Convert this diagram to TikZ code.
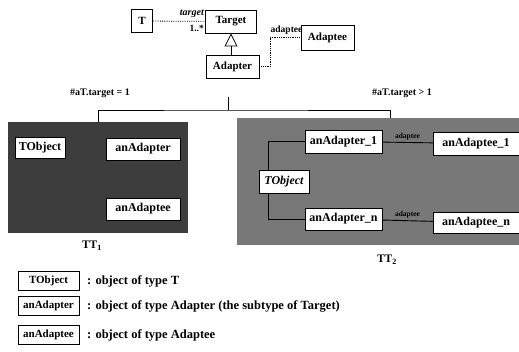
\documentclass[tikz,border=0pt]{standalone}
\usepackage{fontspec}
\setmainfont{Liberation Serif}
\usepackage{tikz}
\usetikzlibrary{arrows.meta,positioning,calc}
\definecolor{fondoA}{gray}{0.24}
\definecolor{fondoB}{gray}{0.47}

\tikzset{
  clase/.style={draw,line width=0.9pt,fill=white,font=\fontsize{11}{13}\selectfont\bfseries,minimum height=23pt,inner sep=1.5pt},
  objeto/.style={draw,fill=white,font=\fontsize{12}{14}\selectfont\bfseries,minimum height=22pt,inner sep=1.5pt},
  clave/.style={draw,fill=white,font=\fontsize{11}{13}\selectfont\bfseries,minimum width=61pt,minimum height=19pt,inner sep=1pt},
  panel/.style={fill=#1,inner sep=0pt,outer sep=0pt},
  rol/.style={font=\fontsize{9.5}{11}\selectfont\bfseries,inner sep=1pt},
  assoc/.style={densely dotted,line width=0.8pt},
  enlace/.style={line width=0.9pt,black},
  leyenda/.style={font=\fontsize{12.5}{14}\selectfont\bfseries,anchor=west,inner sep=0pt}
}

\begin{document}
\begin{tikzpicture}[x=1pt,y=-1pt]
\useasboundingbox[fill=white] (0,0) rectangle (519,351);
% diagrama de clases
\node[clase,minimum width=21pt] (cT) at (142,21) {T};
\node[clase,minimum width=51pt] (cTarget) at (231,21.5) {Target};
\node[clase,minimum width=53pt] (cAdapter) at (232.5,66.5) {Adapter};
\node[clase,minimum width=53pt,minimum height=25pt] (cAdaptee) at (327.5,37.5) {Adaptee};
\draw[assoc] (cT) -- (cTarget);
\node[rol,font=\fontsize{10}{11}\selectfont\bfseries\itshape,anchor=south east] (lTarget) at ([yshift=3pt]cTarget.west) {target};
\node[rol,anchor=north east] (lMult) at ([yshift=-3pt]cTarget.west) {1..*};
\draw[line width=0.8pt,-{Triangle[open,length=13pt,width=13pt]}] (cAdapter.north -| cTarget.south) -- (cTarget.south);
\draw[assoc] (cAdapter.east) -- ++(11,0) |- (cAdaptee.west);
\node[rol,anchor=south east] (lAdaptee) at ([xshift=3pt,yshift=2pt]cAdaptee.west) {adaptee};

% los dos casos
\node[panel=fondoA,minimum width=180pt,minimum height=111pt] (pUno) at (98,177.5) {};
\node[panel=fondoB,minimum width=282pt,minimum height=127pt] (pDos) at (378,181.5) {};
\coordinate (bTop) at (228,97);
\coordinate (bMid) at (228,110);
\draw[line width=0.9pt] (bTop) -- (bMid);
\draw[line width=0.9pt] (pUno.north) |- (bMid) -| ([xshift=12pt]pDos.north);
\node[rol,font=\fontsize{10}{11}\selectfont\bfseries] (cond1) at (100,93) {\#aT.target = 1};
\node[rol,font=\fontsize{10}{11}\selectfont\bfseries] (cond2) at (402,93) {\#aT.target > 1};

% TT1
\node[objeto,minimum width=50pt,minimum height=21pt] (oT1) at (40,147.5) {TObject};
\node[objeto,minimum width=74pt] (oAdapter) at (143,149) {anAdapter};
\node[objeto,minimum width=74pt] (oAdaptee) at (143,209) {anAdaptee};
\node[font=\fontsize{11.5}{13}\selectfont\bfseries] (tt1) at (92,246) {TT\textsubscript{1}};

% TT2
\node[objeto,minimum width=50pt,minimum height=23pt,font=\fontsize{12}{14}\selectfont\bfseries\itshape] (oT2) at (284,181.5) {TObject};
\node[objeto,minimum width=77pt,minimum height=23pt] (oAdapter1) at (343.5,141.5) {anAdapter\_1};
\node[objeto,minimum width=86pt,minimum height=23pt] (oAdaptee1) at (476,143.5) {anAdaptee\_1};
\node[objeto,minimum width=77pt] (oAdapterN) at (343.5,219) {anAdapter\_n};
\node[objeto,minimum width=86pt,minimum height=21pt] (oAdapteeN) at (476,222.5) {anAdaptee\_n};
\draw[enlace] ([xshift=-16pt]oT2.north) |- (oAdapter1.west);
\draw[enlace] ([xshift=-16pt]oT2.south) |- (oAdapterN.west);
\draw[enlace] (oAdapter1) -- (oAdaptee1) node[midway,above=1pt,rol,font=\fontsize{7.5}{8}\selectfont\bfseries] {adaptee};
\draw[enlace] (oAdapterN) -- (oAdapteeN) node[midway,above=1pt,rol,font=\fontsize{7.5}{8}\selectfont\bfseries] {adaptee};
\node[font=\fontsize{11.5}{13}\selectfont\bfseries] (tt2) at (387,260) {TT\textsubscript{2}};

% leyenda
\node[clave] (kT) at (48.5,281) {TObject};
\node[clave] (kAdapter) at (48.5,306) {anAdapter};
\node[clave] (kAdaptee) at (48.5,335) {anAdaptee};
\node[leyenda] (dT) at (87,281) {: object of type T};
\node[leyenda] (dAdapter) at (87,306) {: object of type Adapter (the subtype of Target)};
\node[leyenda] (dAdaptee) at (87,335) {: object of type Adaptee};
\end{tikzpicture}
\end{document}
